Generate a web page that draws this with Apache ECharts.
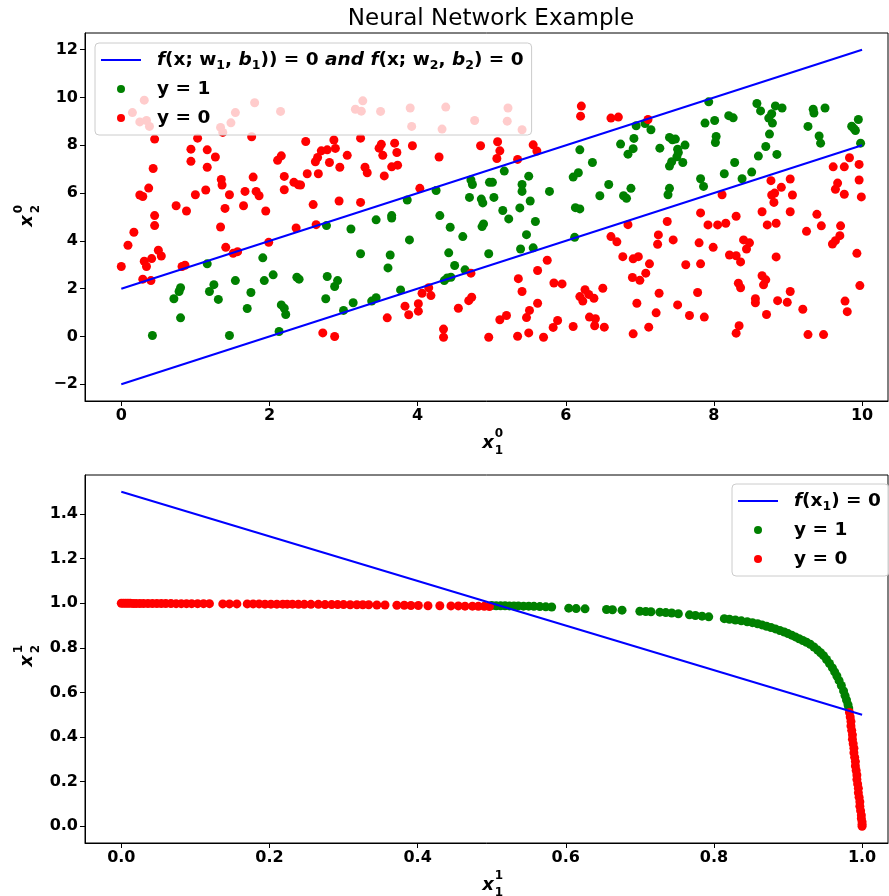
<!DOCTYPE html>
<html><head><meta charset="utf-8">
<script src="https://cdn.jsdelivr.net/npm/echarts@6/dist/echarts.min.js"></script>
<style>html,body{margin:0;padding:0;background:#fff}#c{width:889px;height:896px}</style>
</head><body><div id="c"></div><script>
const topXTicks=[0,2,4,6,8,10];
const topYTicks=[-2,0,2,4,6,8,10,12];
const botXTicks=[0,0.2,0.4,0.6,0.8,1.0];
const botYTicks=[0,0.2,0.4,0.6,0.8,1.0,1.2,1.4];
const topUpperLine=[[0,2],[10,12]];
const topLowerLine=[[0,-2],[10,8]];
const topGreen=[[1.16,3.04],[1.91,3.29],[0.80,2.04],[0.78,1.88],[0.71,1.58],[1.25,2.17],[1.19,1.88],[1.31,1.55],[1.54,2.34],[1.75,1.84],[1.93,2.34],[2.05,2.58],[2.37,2.48],[2.40,2.40],[1.70,1.17],[0.80,0.78],[2.16,1.32],[2.20,1.18],[2.22,0.92],[0.42,0.04],[1.46,0.04],[2.13,0.21],
[3.86,5.71],[4.25,6.11],[4.72,6.55],[4.74,6.36],[4.70,5.82],[4.86,5.75],[4.88,5.59],[4.97,6.45],[3.65,5.06],[4.30,5.06],
[2.77,4.64],[3.10,4.50],[3.44,4.88],[3.65,4.96],[4.44,4.57],[4.61,4.18],[4.89,4.71],[4.87,4.60],[3.89,4.04],[3.23,3.46],[3.63,3.41],[3.60,2.87],[4.42,3.50],[4.50,2.97],[4.64,2.79],[4.96,3.46],[2.78,2.51],[2.92,2.34],[2.88,2.09],[2.76,1.58],[3.13,1.41],[3.00,1.09],[3.38,1.48],[3.44,1.62],[3.77,1.95],[4.36,2.34],[4.40,2.45],[4.45,2.48],
[6.95,8.82],[7.07,8.91],[7.15,8.65],[7.40,8.33],[7.44,8.23],[6.92,8.29],[6.91,7.86],[6.74,8.05],[6.84,7.63],[7.27,7.88],[7.51,7.84],[7.50,7.52],[7.43,7.31],[7.40,7.13],[6.19,7.81],[6.36,7.28],[6.17,6.85],[6.10,6.67],[5.17,6.92],[5.50,6.71],[5.41,6.36],[5.41,6.07],[5.01,6.45],[5.03,5.82],[5.52,5.67],[5.78,6.07],[5.38,5.38],[5.15,5.27],[6.58,6.36],[6.46,5.89],[6.78,5.89],[6.82,5.78],[6.88,6.20],[7.40,6.20],[7.38,5.93],[6.13,5.39],[6.19,5.34],
[7.93,9.82],[7.88,8.93],[8.01,9.04],[8.20,9.24],[8.26,9.15],[8.58,9.75],[8.63,9.44],[8.83,9.65],[8.92,9.56],[8.78,9.32],[8.74,9.14],[8.79,8.93],[8.75,8.47],[8.70,7.95],[8.60,7.55],[8.85,7.62],[8.03,8.37],[8.02,8.12],[8.28,7.28],[8.14,6.81],[8.38,6.60],[8.51,6.88],[7.82,6.60],[7.86,6.28],[9.34,9.51],[9.35,9.35],[9.50,9.56],[9.27,8.79],[9.42,8.39],[9.44,8.09],[9.95,9.08],[9.86,8.80],[9.91,8.62],[9.89,8.70],[9.98,8.09],[7.61,8.01],[7.58,7.28],[7.48,8.26],[7.52,7.70],
[5.23,4.92],[5.59,4.81],[5.47,4.26],[5.39,3.66],[5.56,3.71],[6.12,4.15]];
const topRed=[[0.31,9.89],[0.15,9.37],[0.25,8.98],[0.34,9.04],[0.38,8.79],[1.80,9.78],[1.54,9.37],[1.48,8.94],[1.34,8.75],[1.37,8.54],[2.15,9.42],[1.76,8.36],
[0.45,8.26],[1.03,8.30],[0.94,7.84],[1.16,7.81],[1.27,7.51],[0.94,7.33],[1.16,7.08],[0.43,7.03],[2.16,7.56],[2.11,7.37],[1.35,6.57],[1.36,6.34],[1.78,6.67],[2.20,6.70],[2.33,6.45],[2.39,6.35],[0.37,6.21],[0.25,5.92],[0.29,5.86],[1.00,5.93],[1.14,6.13],[1.46,5.93],[1.67,6.07],[1.82,6.07],[1.86,5.89],[2.20,6.14],[0.74,5.47],[0.88,5.25],[1.40,5.36],[1.65,5.47],[1.95,5.25],[0.45,5.06],
[0.45,4.64],[0.17,4.36],[0.09,3.82],[0.0,2.93],[0.31,3.15],[0.41,3.26],[0.34,2.93],[0.50,3.61],[0.54,3.37],[0.29,2.40],[0.40,2.34],[0.82,2.93],[0.86,2.98],[1.34,4.58],[1.41,3.73],[1.51,3.48],[1.57,3.55],[1.99,3.94],[2.36,4.54],
[3.26,9.86],[3.16,9.51],[3.24,9.43],[3.50,9.42],[3.90,9.56],[4.38,9.60],[3.92,8.79],[4.33,8.68],[4.77,9.04],
[2.49,8.16],[2.87,8.22],[3.23,8.30],[2.70,7.77],[2.78,7.81],[2.89,7.87],[2.65,7.49],[2.62,7.31],[2.81,7.28],[3.05,7.58],[2.95,7.08],[3.48,7.88],[3.51,8.04],[3.53,7.58],[3.69,8.09],[3.72,7.70],[3.93,7.98],[3.29,7.08],[3.32,6.85],[3.55,6.72],[3.65,7.10],[3.73,7.17],[4.29,7.51],[4.85,7.98],[2.51,6.81],[2.66,6.81],[2.42,6.34],[2.59,5.52],[2.94,5.67],[3.23,5.61],[4.03,6.20],
[2.63,4.68],[4.72,2.65],[4.15,2.04],[4.06,1.81],[4.18,1.71],[3.83,1.27],[4.01,1.37],[4.01,1.06],[3.88,0.91],[3.59,0.78],[4.55,1.18],[4.69,1.50],[4.73,1.64],[2.72,0.15],[2.88,0.00],[4.35,0.31],[4.35,-0.03],[4.96,-0.03],
[5.22,9.56],[5.21,9.01],[5.41,8.65],
[6.21,9.64],[6.20,9.22],[6.61,9.14],[6.71,9.18],[7.11,9.08],[5.08,8.15],[5.11,7.77],[5.07,7.45],[5.56,8.02],[5.61,7.76],[5.35,7.41],
[8.11,5.93],[7.82,5.17],[8.77,6.52],[9.03,6.59],[8.91,6.24],[8.82,6.00],[8.78,5.92],[9.06,5.92],[8.81,5.61],[8.65,5.22],[9.03,5.22],[8.30,5.03],[9.39,5.11],[9.61,7.10],[9.76,7.10],[9.83,7.48],[9.96,7.20],[9.96,6.55],[9.67,6.42],[9.64,6.16],[9.76,5.95],[9.99,5.84],
[6.84,4.68],[7.37,4.81],[6.61,4.18],[6.69,3.96],[7.25,4.25],[7.24,3.86],[7.45,4.04],[5.75,3.19],[5.62,2.76],[6.77,3.34],[6.91,3.25],[6.98,3.34],[7.13,3.04],[7.08,2.65],[6.90,2.47],[7.00,2.35],[5.36,2.42],[5.41,1.88],[5.84,2.24],[5.95,2.20],[6.26,1.96],[6.19,1.67],[6.23,1.48],[6.31,1.76],[6.38,1.60],[6.50,2.02],[7.26,1.81],[6.96,1.39],[7.51,1.32],[5.62,1.39],[5.51,1.09],[5.47,0.79],[5.20,0.88],[5.11,0.70],[5.89,0.67],[5.83,0.38],[6.32,0.81],[6.40,0.74],[6.39,0.45],[6.52,0.39],[6.10,0.42],[7.22,0.99],[7.12,0.39],[6.91,0.11],[5.35,0.01],[5.50,0.15],[5.70,-0.03],
[7.92,4.67],[8.05,4.67],[8.16,4.74],[8.72,4.67],[8.84,4.74],[9.25,4.40],[9.45,4.63],[9.71,4.63],[9.70,4.22],[9.64,4.01],[9.60,3.87],[7.80,3.92],[7.99,3.73],[8.40,4.04],[8.48,3.92],[8.44,3.66],[8.21,3.41],[8.30,3.38],[8.36,3.12],[8.84,3.33],[9.93,3.48],[7.62,3.00],[7.82,3.04],[8.65,2.54],[8.70,2.37],[8.67,2.16],[8.33,2.23],[8.36,2.04],[9.97,2.13],[7.78,1.84],[7.67,0.88],[7.87,0.81],[8.56,1.58],[8.56,1.41],[8.86,1.50],[8.99,1.43],[9.03,1.88],[9.20,1.14],[8.71,0.92],[9.77,1.48],[9.80,1.04],[8.34,0.45],[8.30,0.14],[9.27,0.08],[9.48,0.08]];
const botLine=[[0,1.5],[1,0.5]];
const botGreen=[[0.500,0.990],[0.506,0.989],[0.512,0.989],[0.518,0.989],[0.524,0.988],[0.530,0.988],[0.536,0.988],[0.543,0.987],[0.550,0.987],[0.557,0.986],[0.565,0.985],[0.573,0.984],[0.581,0.983],[0.604,0.978],[0.614,0.976],[0.626,0.975],[0.655,0.972],[0.663,0.971],[0.676,0.969],[0.700,0.964],[0.708,0.963],[0.715,0.962],[0.727,0.960],[0.735,0.958],[0.743,0.956],[0.752,0.953],[0.767,0.948],[0.775,0.945],[0.784,0.942],[0.793,0.939],[0.814,0.931],[0.821,0.928],[0.829,0.925],[0.837,0.921],[0.845,0.917],[0.852,0.913],[0.859,0.908],[0.865,0.903],[0.871,0.897],[0.877,0.891],[0.883,0.885],[0.889,0.878],[0.895,0.871],[0.900,0.864],[0.905,0.857],[0.910,0.849],[0.915,0.841],[0.920,0.833],[0.925,0.825],[0.930,0.816],[0.935,0.804],[0.940,0.790],[0.944,0.778],[0.948,0.765],[0.952,0.748],[0.956,0.730],[0.960,0.710],[0.963,0.692],[0.966,0.674],[0.969,0.653],[0.972,0.631],[0.975,0.607],[0.977,0.586],[0.979,0.566],[0.981,0.545],[0.982,0.530]];
const botRed=[[0.000,1.000],[0.003,1.000],[0.006,1.000],[0.009,1.000],[0.012,1.000],[0.016,0.999],[0.020,0.999],[0.025,0.999],[0.030,0.999],[0.036,0.999],[0.042,0.999],[0.048,0.999],[0.054,0.999],[0.060,0.999],[0.067,0.999],[0.074,0.998],[0.081,0.998],[0.088,0.998],[0.095,0.998],[0.103,0.998],[0.111,0.998],[0.119,0.998],[0.137,0.997],[0.146,0.997],[0.156,0.997],[0.170,0.997],[0.178,0.997],[0.186,0.997],[0.194,0.996],[0.202,0.996],[0.210,0.996],[0.218,0.996],[0.224,0.996],[0.231,0.996],[0.239,0.995],[0.247,0.995],[0.256,0.995],[0.266,0.995],[0.275,0.994],[0.284,0.994],[0.292,0.994],[0.300,0.994],[0.309,0.993],[0.318,0.993],[0.326,0.993],[0.334,0.993],[0.345,0.992],[0.356,0.992],[0.372,0.991],[0.382,0.991],[0.391,0.990],[0.401,0.990],[0.414,0.989],[0.430,0.989],[0.445,0.988],[0.455,0.988],[0.464,0.987],[0.474,0.987],[0.482,0.986],[0.490,0.986],[0.497,0.985],
[0.983,0.510],[0.984,0.490],[0.985,0.470],[0.985,0.450],[0.986,0.430],[0.987,0.410],[0.987,0.390],[0.988,0.370],[0.989,0.350],[0.989,0.330],[0.990,0.310],[0.991,0.290],[0.991,0.270],[0.992,0.250],[0.993,0.230],[0.993,0.210],[0.994,0.190],[0.995,0.170],[0.995,0.150],[0.996,0.130],[0.997,0.110],[0.997,0.090],[0.998,0.070],[0.999,0.050],[0.999,0.035],[1.000,0.020],[1.000,0.008],[1.000,0.000]];

const F='DejaVu Sans';
const GREEN='#008000', RED='#ff0000', BLUE='#0000ff';
function fmtInt(v){return v<0?'\u2212'+Math.abs(v):String(v);}
function fmt1(v){return v.toFixed(1);}
function axis(gi,min,max,ticks,fmt){
  return {type:'value',gridIndex:gi,min:min,max:max,
    axisLine:{show:true,onZero:false,lineStyle:{color:'#000',width:1}},
    axisTick:{show:true,length:5,inside:false,lineStyle:{color:'#000',width:1},customValues:ticks},
    axisLabel:{customValues:ticks,formatter:fmt,color:'#000',fontFamily:F,fontWeight:'bold',fontSize:16,margin:7},
    splitLine:{show:false}};
}
function txt(x,y,text,size,italic,rot){
  return {type:'text',x:x,y:y,rotation:rot||0,z:100,
    style:{text:text,fontFamily:F,fontWeight:'bold',fontStyle:italic?'italic':'normal',fontSize:size,fill:'#000',align:'center',verticalAlign:'middle'}};
}
const R=Math.PI/2;
const rich={
  i:{fontFamily:F,fontWeight:'bold',fontStyle:'italic',fontSize:18.5,lineHeight:24,color:'#000'},
  s:{fontFamily:F,fontWeight:'bold',fontSize:12.5,lineHeight:14,verticalAlign:'bottom',color:'#000'}
};
const labels={
  topLine:'{i|f}(x; w{s|1}, {i|b}{s|1})) = 0 {i|and} {i|f}(x; w{s|2}, {i|b}{s|2}) = 0',
  botLine:'{i|f}(x{s|1}) = 0'
};
const LINE_ICON='path://M0,0H40V2H0Z';
function legend(left,top,names){
  return {orient:'vertical',left:left,top:top,
    data:[{name:names[0],icon:LINE_ICON,itemStyle:{color:BLUE}},{name:names[1],icon:'circle'},{name:names[2],icon:'circle'}],
    itemWidth:40,itemHeight:8,itemGap:5,
    padding:[5,8,5,6],backgroundColor:'rgba(255,255,255,0.8)',borderColor:'#cccccc',borderWidth:1,borderRadius:4,
    selectedMode:false,
    formatter:function(n){return labels[n]||n;},
    textStyle:{fontFamily:F,fontWeight:'bold',fontSize:18.5,lineHeight:24,color:'#000',padding:[0,0,0,11],rich:rich}};
}
const chart=echarts.init(document.getElementById('c'),null,{renderer:'canvas'});
chart.setOption({
  animation:false,
  backgroundColor:'#fff',
  grid:[
    {left:85,top:33,width:803,height:368,show:true,borderColor:'#000',borderWidth:1,backgroundColor:'transparent'},
    {left:85,top:475,width:803,height:368,show:true,borderColor:'#000',borderWidth:1,backgroundColor:'transparent'}
  ],
  xAxis:[axis(0,-0.49,10.35,topXTicks,fmtInt),axis(1,-0.049,1.035,botXTicks,fmt1)],
  yAxis:[axis(0,-2.7,12.7,topYTicks,fmtInt),axis(1,-0.075,1.575,botYTicks,fmt1)],
  legend:[legend(95,43,['topLine','y = 1','y = 0']),legend(732,484,['botLine','y = 1','y = 0'])],
  series:[
    {type:'line',name:'topLine',xAxisIndex:0,yAxisIndex:0,data:topUpperLine,symbol:'none',lineStyle:{color:BLUE,width:2},itemStyle:{color:BLUE},z:5},
    {type:'line',name:'topLine',xAxisIndex:0,yAxisIndex:0,data:topLowerLine,symbol:'none',lineStyle:{color:BLUE,width:2},itemStyle:{color:BLUE},z:5},
    {type:'scatter',name:'y = 1',xAxisIndex:0,yAxisIndex:0,data:topGreen,symbol:'circle',symbolSize:9,itemStyle:{color:GREEN,opacity:1},z:2},
    {type:'scatter',name:'y = 0',xAxisIndex:0,yAxisIndex:0,data:topRed,symbol:'circle',symbolSize:9,itemStyle:{color:RED,opacity:1},z:2},
    {type:'line',name:'botLine',xAxisIndex:1,yAxisIndex:1,data:botLine,symbol:'none',lineStyle:{color:BLUE,width:2},itemStyle:{color:BLUE},z:5},
    {type:'scatter',name:'y = 1',xAxisIndex:1,yAxisIndex:1,data:botGreen,symbol:'circle',symbolSize:9,itemStyle:{color:GREEN,opacity:1},z:2},
    {type:'scatter',name:'y = 0',xAxisIndex:1,yAxisIndex:1,data:botRed,symbol:'circle',symbolSize:9,itemStyle:{color:RED,opacity:1},z:2}
  ],
  graphic:[
    {type:'text',x:491,y:19,z:100,style:{text:'Neural Network Example',fontFamily:F,fontSize:23,fill:'#000',align:'center',verticalAlign:'middle'}},
    txt(488,443,'x',18,true), txt(499,434,'0',12,false), txt(499,451,'1',12,false),
    txt(27,221,'x',18,true,R), txt(19,209,'0',12,false,R), txt(36,209,'2',12,false,R),
    txt(488,885,'x',18,true), txt(499,876,'1',12,false), txt(499,893,'1',12,false),
    txt(27,661,'x',18,true,R), txt(19,649,'1',12,false,R), txt(36,649,'2',12,false,R)
  ]
});
</script></body></html>
